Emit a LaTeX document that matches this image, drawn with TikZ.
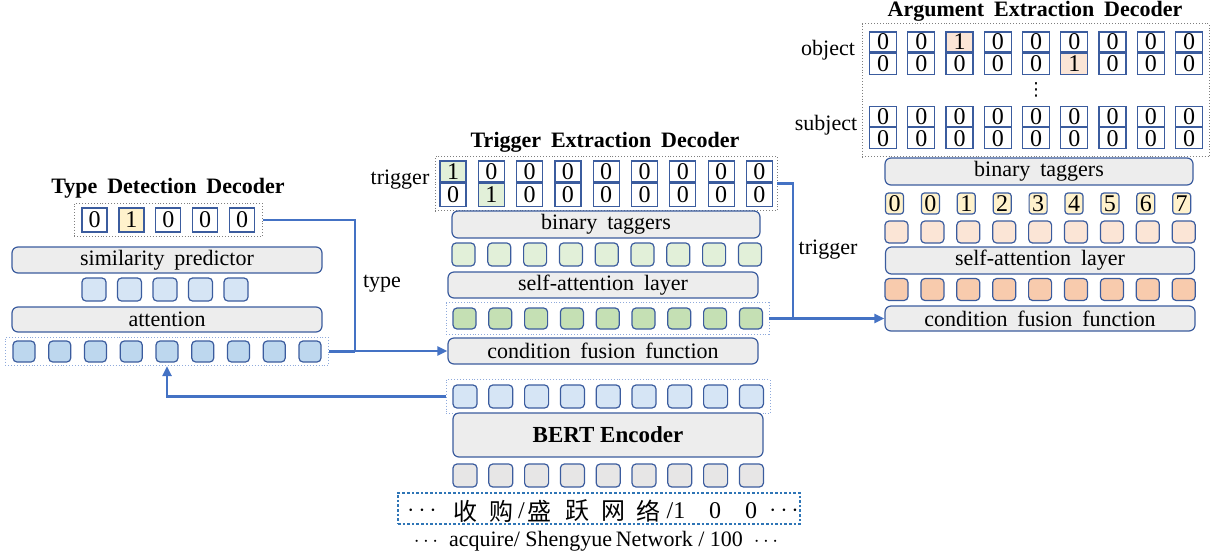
\documentclass[tikz,border=0pt]{standalone}
\usepackage{fontspec}
\setmainfont{Liberation Serif}
\newfontfamily\widefont{Liberation Serif}[WordSpace=1.8]
\newfontfamily\cjk{Noto Sans CJK SC}
\newfontfamily\symfont{DejaVu Sans}
\usepackage{xcolor}
\definecolor{edge}{HTML}{3B5C9E}
\definecolor{barfill}{HTML}{EDEDED}
\definecolor{linkblue}{HTML}{4472C4}
\definecolor{paleblue}{HTML}{D6E5F5}
\definecolor{midblue}{HTML}{BDD7EE}
\definecolor{cellgray}{HTML}{E7E6E6}
\definecolor{palegreen}{HTML}{E2F0D9}
\definecolor{midgreen}{HTML}{C5E0B4}
\definecolor{paleyellow}{HTML}{FFF2CC}
\definecolor{palepeach}{HTML}{FBE5D6}
\definecolor{midpeach}{HTML}{F8CBAD}
\definecolor{dotgray}{HTML}{7F7F7F}
\definecolor{dotblue}{HTML}{8FAADC}
\definecolor{inblue}{HTML}{2E75B6}
\usetikzlibrary{arrows.meta}
\usetikzlibrary{fit}

\begin{document}
\begin{tikzpicture}[x=1pt, y=-1pt, font=\fontsize{22}{26}\selectfont,
    bar/.style={draw=edge, line width=1.2pt, fill=barfill, rounded corners=6pt,
      minimum width=310pt, minimum height=26pt, inner sep=0pt,
      font=\widefont\fontsize{22}{26}\selectfont},
    blk/.style={draw=edge, line width=1.2pt, rounded corners=4pt,
      minimum width=23pt, minimum height=22pt, inner sep=0pt},
    bit/.style={draw=edge, line width=1.2pt, minimum width=27pt,
      minimum height=21pt, inner sep=0pt, font=\fontsize{24}{24}\selectfont},
    grp/.style={draw=dotgray, dotted, line width=0.9pt},
    bgrp/.style={draw=dotblue, dotted, line width=0.9pt},
    title/.style={font=\widefont\bfseries\fontsize{22}{26}\selectfont},
    link/.style={draw=linkblue, line width=2.7pt},
    tip/.style={-{Triangle[length=10pt, width=9pt]}}]

    \useasboundingbox (0, 0) rectangle (1214, 555);

    % type detection decoder
    \node [title] (tdd) at (168, 188) {Type Detection Decoder};
    \foreach \v/\c [count=\i] in {0/white, 1/paleyellow, 0/white, 0/white, 0/white}
      \node [bit, fill=\c, minimum width=25pt, minimum height=24pt]
        (ty\i) at (94.5 + 36.9*\i - 36.9, 220) {\v};
    \node [grp, inner xsep=7pt, inner ysep=4pt, fit=(ty1)(ty5)] (tygrp) {};
    \node [bar] (simpred) at (167, 260) {similarity predictor};
    \foreach \i in {1,...,5}
      \node [blk, fill=paleblue, minimum width=24pt, minimum height=23pt]
        (sp\i) at (94 + 35.5*\i - 35.5, 289.5) {};
    \node [bar, minimum height=25pt] (attn) at (167, 319.5) {attention};
    \foreach \i in {1,...,9}
      \node [blk, fill=midblue, minimum width=22pt, minimum height=21pt]
        (em\i) at (24 + 35.75*\i - 35.75, 351.5) {};
    \node [bgrp, inner xsep=7pt, inner ysep=3pt, fit=(em1)(em9)] (emgrp) {};

    % trigger extraction decoder
    \node [title] (ted) at (605, 142) {Trigger Extraction Decoder};
    \node (trlab) at (400, 180) {trigger};
    \foreach \t/\b [count=\i] in {1/0, 0/1, 0/0, 0/0, 0/0, 0/0, 0/0, 0/0, 0/0} {
      \ifnum\i=1 \def\ct{palegreen}\else \def\ct{white}\fi
      \ifnum\i=2 \def\cb{palegreen}\else \def\cb{white}\fi
      \node [bit, fill=\ct, minimum width=26pt] (tt\i) at (453 + 38.3*\i - 38.3, 171.5) {\t};
      \node [bit, fill=\cb, minimum width=26pt, minimum height=23pt, anchor=north]
        (tb\i) at (tt\i.south) {\b};
    }
    \node [grp, inner sep=4pt, fit=(tt1)(tb9)] (trgrp) {};
    \node [bar, minimum width=308pt, minimum height=27pt] (mbin) at (606, 224.5) {binary taggers};
    \foreach \i in {1,...,9}
      \node [blk, fill=palegreen, minimum height=23pt] (lg\i) at (463.5 + 35.8*\i - 35.8, 254.5) {};
    \node [bar] (msa) at (603, 285) {self-attention layer};
    \foreach \i in {1,...,9}
      \node [blk, fill=midgreen, minimum height=21pt] (gr\i) at (464.5 + 35.8*\i - 35.8, 318.5) {};
    \node [bgrp, inner xsep=6pt, inner ysep=4.5pt, fit=(gr1)(gr9)] (grgrp) {};
    \node [bar] (cff) at (603, 351) {condition fusion function};

    % encoder
    \foreach \i in {1,...,9}
      \node [blk, fill=paleblue, minimum width=24pt, minimum height=23pt]
        (bo\i) at (465 + 35.8*\i - 35.8, 396.5) {};
    \node [bgrp, inner xsep=6pt, inner ysep=5pt, fit=(bo1)(bo9)] (bogrp) {};
    \node [bar, minimum height=44pt, font=\bfseries\fontsize{23}{27}\selectfont]
      (bert) at (608, 435) {BERT Encoder};
    \foreach \i in {1,...,9}
      \node [blk, fill=cellgray, minimum width=24pt, minimum height=23pt]
        (bi\i) at (465 + 35.8*\i - 35.8, 475.5) {};
    \node [draw=inblue, dotted, line width=2.6pt, minimum width=402pt,
      minimum height=31pt] (inbox) at (599, 508.5) {};
    \foreach \x/\w [count=\i] in {422/$\cdots$, 465/\cjk 收, 501/\cjk 购, 521.5/{/},
        539.5/\cjk 盛, 577/\cjk 跃, 613.5/\cjk 网, 648.5/\cjk 络, 676/{/1},
        715/0, 751/0, 784/$\cdots$}
      \node [inner sep=0pt, font=\fontsize{24}{28}\selectfont] (zh\i) at (\x, 511) {\w};
    \node (en) at (596, 541) {$\cdots$\ \ acquire/ Shengyue\,Network / 100 \ $\cdots$};

    % argument extraction decoder
    \node [title] (aed) at (1035, 11) {Argument Extraction Decoder};
    \node (oblab) at (828, 50) {object};
    \node (sublab) at (826, 125) {subject};
    \foreach \i in {1,...,9} {
      \ifnum\i=3 \def\ct{palepeach}\def\vt{1}\else \def\ct{white}\def\vt{0}\fi
      \ifnum\i=6 \def\cb{palepeach}\def\vb{1}\else \def\cb{white}\def\vb{0}\fi
      \node [bit, fill=\ct, minimum height=20pt] (ot\i) at (883 + 38.25*\i - 38.25, 42) {\vt};
      \node [bit, fill=\cb, anchor=north] (ob\i) at (ot\i.south) {\vb};
      \node [bit, minimum height=20pt] (st\i) at (883 + 38.25*\i - 38.25, 116.5) {0};
      \node [bit, anchor=north] (sb\i) at (st\i.south) {0};
    }
    \node [font=\symfont\fontsize{18}{20}\selectfont] (vd) at (1036, 90) {⋮};
    \node [grp, inner xsep=6.5pt, inner ysep=7.5pt, fit=(ot1)(sb9)] (argrp) {};
    \node [bar, minimum width=308pt, minimum height=27pt] (abin) at (1039, 171.5) {binary taggers};
    \foreach \v [count=\i] in {0,0,1,2,3,4,5,6,7}
      \node [blk, fill=paleyellow, rounded corners=3pt, minimum width=18pt, minimum height=21pt,
        font=\fontsize{24}{24}\selectfont] (nm\i) at (894.5 + 35.9*\i - 35.9, 203.5) {\v};
    \foreach \i in {1,...,9}
      \node [blk, fill=palepeach] (lp\i) at (896.5 + 35.9*\i - 35.9, 232) {};
    \node [bar, minimum width=309pt, minimum height=27pt] (asa) at (1040, 260.5) {self-attention layer};
    \foreach \i in {1,...,9}
      \node [blk, fill=midpeach] (dp\i) at (896.5 + 35.9*\i - 35.9, 289.5) {};
    \node [bar, minimum height=25pt] (acff) at (1040, 318.5) {condition fusion function};

    % connectors
    \coordinate (tyjoin) at (355, 0);
    \coordinate (trjoin) at (793, 0);
    \draw [link, tip] (tygrp.east) -| (tyjoin |- cff.west) -- (cff.west);
    \draw [link] (emgrp.east) -- (emgrp.east -| tyjoin);
    \draw [link, tip] (bogrp.west) -| (emgrp.south);
    \draw [link, tip] (trgrp.east) -| (trjoin |- acff.west) -- (acff.west);
    \draw [link] (grgrp.east) -- (grgrp.east -| trjoin);
    \node (tylab) at (382, 284) {type};
    \node (trlab2) at (828, 250) {trigger};

  \end{tikzpicture}
\end{document}
